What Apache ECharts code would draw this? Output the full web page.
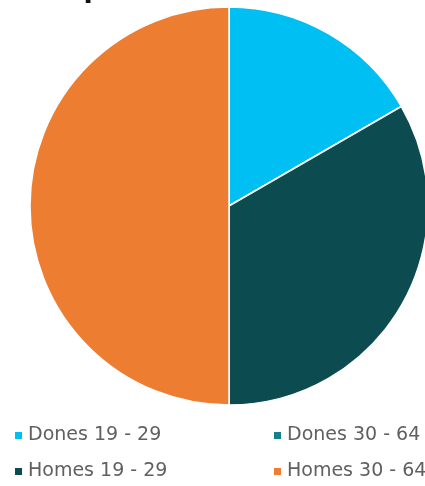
<!DOCTYPE html>
<html><head><meta charset="utf-8">
<script src="https://cdn.jsdelivr.net/npm/echarts@6/dist/echarts.min.js"></script>
<style>html,body{margin:0;padding:0;background:#fff}#c{width:425px;height:486px}</style>
</head><body><div id="c"></div>
<script>
const categories = ['Dones 19 - 29', 'Dones 30 - 64', 'Homes 19 - 29', 'Homes 30 - 64'];
const values = [1, 0, 2, 3];
const colors = ['#00BFF3', '#17808C', '#0C4B4F', '#ED7D31'];

const chart = echarts.init(document.getElementById('c'));
const legendText = { fontSize: 19, color: '#606060', fontFamily: 'DejaVu Sans' };
chart.setOption({
  animation: false,
  title: { text: 'Composició de la mostra', left: 12, top: -29, textStyle: { fontSize: 27, fontWeight: 'bold', color: '#111', fontFamily: 'DejaVu Sans' } },
  legend: [
    { data: [categories[0], categories[2]], orient: 'vertical', left: 8, top: 421, itemWidth: 9, itemHeight: 9, itemGap: 17, icon: 'rect', textStyle: legendText },
    { data: [categories[1], categories[3]], orient: 'vertical', left: 267, top: 421, itemWidth: 9, itemHeight: 9, itemGap: 17, icon: 'rect', textStyle: legendText }
  ],
  series: [{
    type: 'pie',
    center: [229, 206],
    radius: 199,
    startAngle: 90,
    clockwise: true,
    label: { show: false },
    labelLine: { show: false },
    itemStyle: { borderColor: '#fff', borderWidth: 1.5 },
    data: categories.map((c, i) => ({ name: c, value: values[i], itemStyle: { color: colors[i] } }))
  }]
});
</script></body></html>
